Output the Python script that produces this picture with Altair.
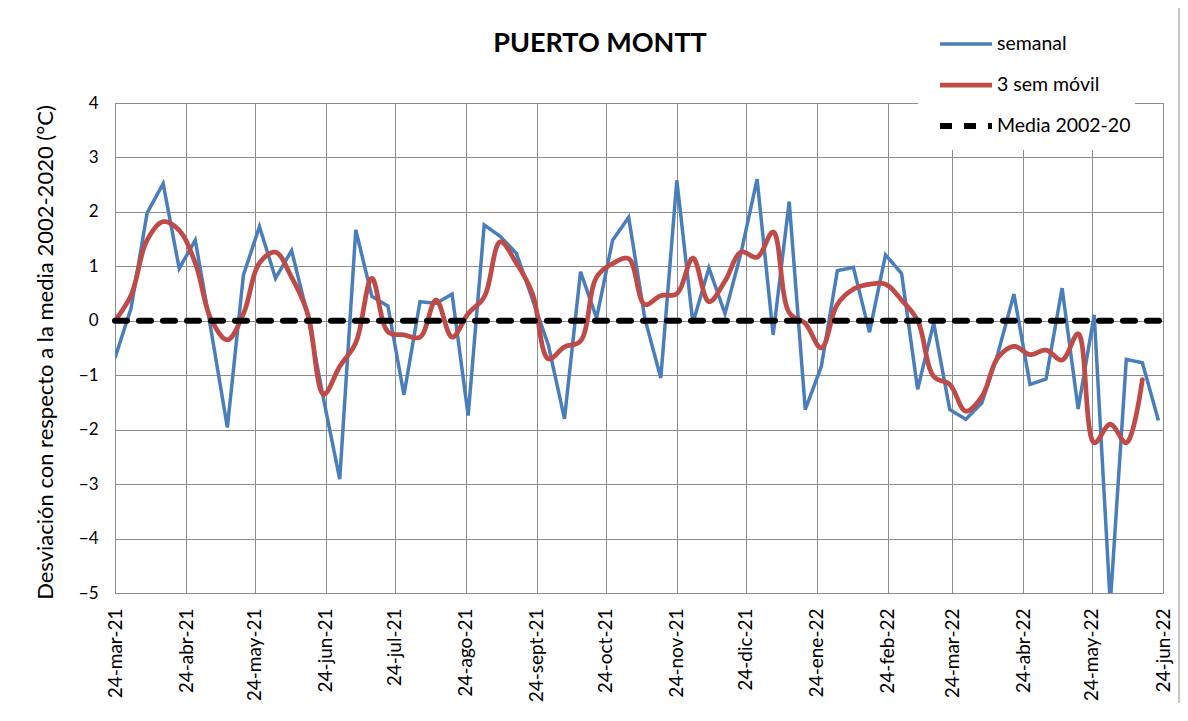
import json
import altair as alt
import pandas as pd

# ---------------- data ----------------
WEEK_START = "2021-03-24"
SEMANAL = [-0.68, 0.23, 1.98, 2.52, 0.96, 1.48, -0.20, -1.96, 0.84, 1.73,
           0.78, 1.29, 0.10, -1.45, -2.91, 1.67, 0.45, 0.27, -1.36, 0.35,
           0.32, 0.49, -1.74, 1.76, 1.55, 1.24, 0.40, -0.45, -1.80, 0.90,
           0.05, 1.48, 1.90, 0.05, -1.05, 2.58, -0.04, 0.97, 0.13, 1.25,
           2.60, -0.26, 2.19, -1.63, -0.84, 0.92, 0.98, -0.21, 1.21, 0.87,
           -1.26, -0.04, -1.63, -1.81, -1.51, -0.60, 0.49, -1.17, -1.07, 0.60,
           -1.62, 0.11, -5.20, -0.71, -0.77, -1.83]
MOVIL = [0.00, 0.47, 1.48, 1.82, 1.66, 1.06, 0.02, -0.35, 0.13, 1.06,
         1.26, 0.80, 0.13, -1.35, -0.84, -0.40, 0.78, -0.20, -0.26, -0.30,
         0.38, -0.30, 0.13, 0.44, 1.45, 1.06, 0.50, -0.70, -0.48, -0.37,
         0.80, 1.05, 1.14, 0.30, 0.46, 0.50, 1.15, 0.35, 0.73, 1.26,
         1.17, 1.63, 0.15, -0.05, -0.50, 0.30, 0.58, 0.67, 0.67, 0.38,
         0.00, -1.02, -1.17, -1.66, -1.39, -0.68, -0.47, -0.62, -0.54, -0.72,
         -0.24, -2.24, -1.90, -2.24, -1.08]
MEDIA_DATES = ["2021-03-24", "2022-06-24"]
MEDIA_VALUES = [0.0, 0.0]

TICK_DATES = ["2021-03-24", "2021-04-24", "2021-05-24", "2021-06-24", "2021-07-24",
              "2021-08-24", "2021-09-24", "2021-10-24", "2021-11-24", "2021-12-24",
              "2022-01-24", "2022-02-24", "2022-03-24", "2022-04-24", "2022-05-24",
              "2022-06-24"]
MESES = ["ene", "feb", "mar", "abr", "may", "jun", "jul", "ago", "sept", "oct", "nov", "dic"]
Y_TICKS = [-5, -4, -3, -2, -1, 0, 1, 2, 3, 4]

SERIES = ["semanal", "3 sem móvil", "Media 2002-20"]
COLORS = ["#4A7EBB", "#BE4B48", "#000000"]
WIDTHS = [3.5, 6, 5]
DASHES = [[1, 0], [1, 0], [12, 12]]

TITLE = "PUERTO MONTT"
Y_TITLE = "Desviación con respecto a la media 2002-2020 (°C)"

FONT = "Lato"
GRID = "#8C8C8C"

# ---------------- frames ----------------
dates = pd.date_range(WEEK_START, periods=len(SEMANAL), freq="7D").strftime("%Y-%m-%d")
df_sem = pd.DataFrame({"fecha": dates, "valor": SEMANAL, "serie": SERIES[0]})
df_mov = pd.DataFrame({"fecha": dates[:len(MOVIL)], "valor": MOVIL, "serie": SERIES[1]})
df_med = pd.DataFrame({"fecha": MEDIA_DATES, "valor": MEDIA_VALUES, "serie": SERIES[2]})

tick_ms = [int(pd.Timestamp(d, tz="UTC").timestamp() * 1000) for d in TICK_DATES]
label_expr = ("'24-' + " + json.dumps(MESES) + "[utcmonth(datum.value)] + '-' + "
              "utcFormat(datum.value, '%y')")

X = alt.X("fecha:T",
          scale=alt.Scale(type="utc", domain=[tick_ms[0], tick_ms[-1]]),
          axis=alt.Axis(values=tick_ms, labelExpr=label_expr, labelAngle=270,
                        labelFontSize=19, labelFont=FONT, labelColor="black",
                        labelPadding=15, ticks=False, domain=False, grid=True,
                        gridColor=GRID, gridOpacity=1, labelOverlap=False,
                        labelBound=False, labelFlush=False, title=None))
Y = alt.Y("valor:Q",
          scale=alt.Scale(domain=[-5, 4], nice=False, zero=False),
          axis=alt.Axis(values=Y_TICKS, title=Y_TITLE, titleFont=FONT,
                        titleFontSize=22, titleFontWeight="normal", titleColor="black",
                        titleX=-70, titleY=249, titleAngle=270, titleAlign="center",
                        titleBaseline="middle", labelFontSize=17, labelFont=FONT,
                        labelColor="black", labelPadding=17, ticks=False, domain=False,
                        grid=True, gridColor=GRID, gridOpacity=1))

legend = alt.Legend(title=None, orient="none", legendX=803, legendY=-83,
                    fillColor="white", padding=4, symbolType="stroke",
                    symbolSize=2704, clipHeight=40, rowPadding=1, symbolOffset=15,
                    labelOffset=2, labelFontSize=19.5, labelFont=FONT,
                    labelColor="black", labelLimit=300)

C = alt.Color("serie:N", scale=alt.Scale(domain=SERIES, range=COLORS), legend=legend)
D = alt.StrokeDash("serie:N", scale=alt.Scale(domain=SERIES, range=DASHES), legend=legend)
W = alt.StrokeWidth("serie:N", scale=alt.Scale(domain=SERIES, range=WIDTHS), legend=legend)

one = pd.DataFrame({"k": [0]})

border = alt.Chart(one).mark_rect(fillOpacity=0, stroke="#8C8C8C", strokeWidth=1,
                                  clip=False).encode(
    x=alt.value(-110), x2=alt.value(1064), y=alt.value(-96), y2=alt.value(660))

blue = alt.Chart(df_sem).mark_line(clip=True).encode(
    x=X, y=Y, color=C, strokeDash=D, strokeWidth=W)
red = alt.Chart(df_mov).mark_line(interpolate="catmull-rom", strokeCap="round",
                                  strokeJoin="round").encode(
    x=X, y=Y, color=C, strokeDash=D, strokeWidth=W)
media = alt.Chart(df_med).mark_line(strokeCap="round").encode(
    x=X, y=Y, color=C, strokeDash=D, strokeWidth=W)

title = alt.Chart(one).mark_text(text=TITLE, font=FONT, fontSize=27, fontWeight="bold",
                                 align="center", baseline="alphabetic",
                                 color="black").encode(
    x=alt.value(485), y=alt.value(-51))

chart = alt.layer(border, blue, red, media, title).properties(
    width=1048, height=490,
    autosize=alt.AutoSizeParams(type="none"),
    padding={"left": 107, "top": 95, "right": 17, "bottom": 110},
    background="white",
).configure_view(stroke=GRID, strokeWidth=1)

chart.save("out.html", embed_options={"renderer": "svg", "actions": False})
